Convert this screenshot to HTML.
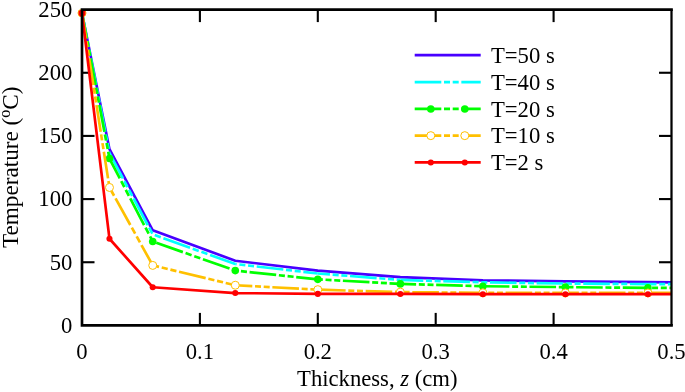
<!DOCTYPE html>
<html><head><meta charset="utf-8"><title>chart</title>
<style>
html,body{margin:0;padding:0;background:#fff;}
body{width:685px;height:392px;overflow:hidden;font-family:"Liberation Serif",serif;}
svg{display:block;will-change:transform;}
text{font-family:"Liberation Serif",serif;font-size:22.67px;fill:#000;}
</style></head><body>
<svg width="685" height="392" viewBox="0 0 685 392">
<rect x="0" y="0" width="685" height="392" fill="#fff"/>
<defs><clipPath id="cp"><rect x="77.00" y="9.60" width="594.50" height="315.80"/></clipPath></defs>

<g stroke="#000" fill="none">
<line x1="199.90" y1="325.40" x2="199.90" y2="312.90" stroke-width="2.1"/>
<line x1="199.90" y1="9.60" x2="199.90" y2="22.10" stroke-width="2.1"/>
<line x1="317.80" y1="325.40" x2="317.80" y2="312.90" stroke-width="2.1"/>
<line x1="317.80" y1="9.60" x2="317.80" y2="22.10" stroke-width="2.1"/>
<line x1="435.70" y1="325.40" x2="435.70" y2="312.90" stroke-width="2.1"/>
<line x1="435.70" y1="9.60" x2="435.70" y2="22.10" stroke-width="2.1"/>
<line x1="553.60" y1="325.40" x2="553.60" y2="312.90" stroke-width="2.1"/>
<line x1="553.60" y1="9.60" x2="553.60" y2="22.10" stroke-width="2.1"/>
<line x1="82.00" y1="262.24" x2="94.50" y2="262.24" stroke-width="2.1"/>
<line x1="671.50" y1="262.24" x2="659.00" y2="262.24" stroke-width="2.1"/>
<line x1="82.00" y1="199.08" x2="94.50" y2="199.08" stroke-width="2.1"/>
<line x1="671.50" y1="199.08" x2="659.00" y2="199.08" stroke-width="2.1"/>
<line x1="82.00" y1="135.92" x2="94.50" y2="135.92" stroke-width="2.1"/>
<line x1="671.50" y1="135.92" x2="659.00" y2="135.92" stroke-width="2.1"/>
<line x1="82.00" y1="72.76" x2="94.50" y2="72.76" stroke-width="2.1"/>
<line x1="671.50" y1="72.76" x2="659.00" y2="72.76" stroke-width="2.1"/>
</g>
<g clip-path="url(#cp)" fill="none" stroke-linejoin="round">
<polyline points="82.00,13.01 109.47,149.18 152.74,230.34 235.27,260.72 317.80,270.70 400.33,277.15 482.86,280.30 565.39,281.31 647.92,282.20 730.45,282.70" stroke="#4800ff" stroke-width="2.67"/>
<line x1="82.00" y1="13.01" x2="109.47" y2="153.10" stroke="#00ffff" stroke-width="2.67" stroke-dasharray="27.107 2.751 6.114 2.751 6.114 2.700" stroke-dashoffset="1.223"/>
<line x1="109.47" y1="153.10" x2="152.74" y2="234.39" stroke="#00ffff" stroke-width="2.67" stroke-dasharray="30.134 3.059 6.797 3.059 6.797 3.002" stroke-dashoffset="1.517"/>
<line x1="152.74" y1="234.39" x2="235.27" y2="264.01" stroke="#00ffff" stroke-width="2.67" stroke-dasharray="28.262 2.869 6.375 2.869 6.375 2.816" stroke-dashoffset="38.223"/>
<line x1="235.27" y1="264.01" x2="317.80" y2="273.48" stroke="#00ffff" stroke-width="2.67" stroke-dasharray="26.775 2.718 6.039 2.718 6.039 2.667" stroke-dashoffset="25.371"/>
<line x1="317.80" y1="273.48" x2="400.33" y2="279.92" stroke="#00ffff" stroke-width="2.67" stroke-dasharray="26.681 2.708 6.018 2.708 6.018 2.658" stroke-dashoffset="14.480"/>
<line x1="400.33" y1="279.92" x2="482.86" y2="282.32" stroke="#00ffff" stroke-width="2.67" stroke-dasharray="26.611 2.701 6.003 2.701 6.003 2.651" stroke-dashoffset="3.667"/>
<line x1="482.86" y1="282.32" x2="565.39" y2="283.52" stroke="#00ffff" stroke-width="2.67" stroke-dasharray="26.603 2.700 6.001 2.700 6.001 2.650" stroke-dashoffset="39.550"/>
<line x1="565.39" y1="283.52" x2="647.92" y2="284.09" stroke="#00ffff" stroke-width="2.67" stroke-dasharray="26.601 2.700 6.000 2.700 6.000 2.650" stroke-dashoffset="28.776"/>
<line x1="647.92" y1="284.09" x2="730.45" y2="284.47" stroke="#00ffff" stroke-width="2.67" stroke-dasharray="26.600 2.700 6.000 2.700 6.000 2.650" stroke-dashoffset="18.006"/>
<line x1="82.00" y1="13.01" x2="109.47" y2="158.53" stroke="#00ff00" stroke-width="2.67" stroke-dasharray="27.070 2.748 6.106 2.748 6.106 2.697" stroke-dashoffset="1.221"/>
<line x1="109.47" y1="158.53" x2="152.74" y2="241.52" stroke="#00ff00" stroke-width="2.67" stroke-dasharray="29.998 3.045 6.767 3.045 6.767 2.989" stroke-dashoffset="7.636"/>
<line x1="152.74" y1="241.52" x2="235.27" y2="270.58" stroke="#00ff00" stroke-width="2.67" stroke-dasharray="28.200 2.862 6.361 2.862 6.361 2.809" stroke-dashoffset="45.706"/>
<line x1="235.27" y1="270.58" x2="317.80" y2="279.36" stroke="#00ff00" stroke-width="2.67" stroke-dasharray="26.750 2.715 6.034 2.715 6.034 2.665" stroke-dashoffset="32.525"/>
<line x1="317.80" y1="279.36" x2="400.33" y2="283.90" stroke="#00ff00" stroke-width="2.67" stroke-dasharray="26.640 2.704 6.009 2.704 6.009 2.654" stroke-dashoffset="21.606"/>
<line x1="400.33" y1="283.90" x2="482.86" y2="286.24" stroke="#00ff00" stroke-width="2.67" stroke-dasharray="26.611 2.701 6.002 2.701 6.002 2.651" stroke-dashoffset="10.807"/>
<line x1="482.86" y1="286.24" x2="565.39" y2="287.13" stroke="#00ff00" stroke-width="2.67" stroke-dasharray="26.602 2.700 6.000 2.700 6.000 2.650" stroke-dashoffset="0.033"/>
<line x1="565.39" y1="287.13" x2="647.92" y2="287.88" stroke="#00ff00" stroke-width="2.67" stroke-dasharray="26.601 2.700 6.000 2.700 6.000 2.650" stroke-dashoffset="35.914"/>
<line x1="647.92" y1="287.88" x2="730.45" y2="288.14" stroke="#00ff00" stroke-width="2.67" stroke-dasharray="26.600 2.700 6.000 2.700 6.000 2.650" stroke-dashoffset="25.143"/>
<circle cx="82.00" cy="13.01" r="3.8" fill="#00ff00" stroke="none"/>
<circle cx="109.47" cy="158.53" r="3.8" fill="#00ff00" stroke="none"/>
<circle cx="152.74" cy="241.52" r="3.8" fill="#00ff00" stroke="none"/>
<circle cx="235.27" cy="270.58" r="3.8" fill="#00ff00" stroke="none"/>
<circle cx="317.80" cy="279.36" r="3.8" fill="#00ff00" stroke="none"/>
<circle cx="400.33" cy="283.90" r="3.8" fill="#00ff00" stroke="none"/>
<circle cx="482.86" cy="286.24" r="3.8" fill="#00ff00" stroke="none"/>
<circle cx="565.39" cy="287.13" r="3.8" fill="#00ff00" stroke="none"/>
<circle cx="647.92" cy="287.88" r="3.8" fill="#00ff00" stroke="none"/>
<circle cx="730.45" cy="288.14" r="3.8" fill="#00ff00" stroke="none"/>
<line x1="82.00" y1="13.01" x2="109.47" y2="187.46" stroke="#ffc000" stroke-width="2.67" stroke-dasharray="26.928 2.733 6.074 2.733 6.074 2.683" stroke-dashoffset="1.215"/>
<line x1="109.47" y1="187.46" x2="152.74" y2="265.40" stroke="#ffc000" stroke-width="2.67" stroke-dasharray="30.424 3.088 6.863 3.088 6.863 3.031" stroke-dashoffset="40.830"/>
<line x1="152.74" y1="265.40" x2="235.27" y2="285.23" stroke="#ffc000" stroke-width="2.67" stroke-dasharray="27.357 2.777 6.171 2.777 6.171 2.725" stroke-dashoffset="20.916"/>
<line x1="235.27" y1="285.23" x2="317.80" y2="289.65" stroke="#ffc000" stroke-width="2.67" stroke-dasharray="26.638 2.704 6.009 2.704 6.009 2.654" stroke-dashoffset="9.581"/>
<line x1="317.80" y1="289.65" x2="400.33" y2="292.11" stroke="#ffc000" stroke-width="2.67" stroke-dasharray="26.612 2.701 6.003 2.701 6.003 2.651" stroke-dashoffset="45.468"/>
<line x1="400.33" y1="292.11" x2="482.86" y2="292.81" stroke="#ffc000" stroke-width="2.67" stroke-dasharray="26.601 2.700 6.000 2.700 6.000 2.650" stroke-dashoffset="34.679"/>
<line x1="482.86" y1="292.81" x2="565.39" y2="292.94" stroke="#ffc000" stroke-width="2.67" stroke-dasharray="26.600 2.700 6.000 2.700 6.000 2.650" stroke-dashoffset="23.907"/>
<line x1="565.39" y1="292.94" x2="647.92" y2="292.94" stroke="#ffc000" stroke-width="2.67" stroke-dasharray="26.600 2.700 6.000 2.700 6.000 2.650" stroke-dashoffset="13.137"/>
<line x1="647.92" y1="292.94" x2="730.45" y2="292.94" stroke="#ffc000" stroke-width="2.67" stroke-dasharray="26.600 2.700 6.000 2.700 6.000 2.650" stroke-dashoffset="2.367"/>
<circle cx="82.00" cy="13.01" r="4.0" fill="#fff" stroke="#ffc000" stroke-width="1.0"/>
<circle cx="109.47" cy="187.46" r="4.0" fill="#fff" stroke="#ffc000" stroke-width="1.0"/>
<circle cx="152.74" cy="265.40" r="4.0" fill="#fff" stroke="#ffc000" stroke-width="1.0"/>
<circle cx="235.27" cy="285.23" r="4.0" fill="#fff" stroke="#ffc000" stroke-width="1.0"/>
<circle cx="317.80" cy="289.65" r="4.0" fill="#fff" stroke="#ffc000" stroke-width="1.0"/>
<circle cx="400.33" cy="292.11" r="4.0" fill="#fff" stroke="#ffc000" stroke-width="1.0"/>
<circle cx="482.86" cy="292.81" r="4.0" fill="#fff" stroke="#ffc000" stroke-width="1.0"/>
<circle cx="565.39" cy="292.94" r="4.0" fill="#fff" stroke="#ffc000" stroke-width="1.0"/>
<circle cx="647.92" cy="292.94" r="4.0" fill="#fff" stroke="#ffc000" stroke-width="1.0"/>
<circle cx="730.45" cy="292.94" r="4.0" fill="#fff" stroke="#ffc000" stroke-width="1.0"/>
<polyline points="82.00,13.01 109.47,238.74 152.74,287.25 235.27,293.06 317.80,293.88 400.33,293.95 482.86,294.20 565.39,294.20 647.92,294.20 730.45,294.20" stroke="#ff0000" stroke-width="2.67"/>
<circle cx="82.00" cy="13.01" r="3.60" fill="#ff0000" stroke="none"/>
<circle cx="109.47" cy="238.74" r="3.05" fill="#ff0000" stroke="none"/>
<circle cx="152.74" cy="287.25" r="3.05" fill="#ff0000" stroke="none"/>
<circle cx="235.27" cy="293.06" r="3.05" fill="#ff0000" stroke="none"/>
<circle cx="317.80" cy="293.88" r="3.05" fill="#ff0000" stroke="none"/>
<circle cx="400.33" cy="293.95" r="3.05" fill="#ff0000" stroke="none"/>
<circle cx="482.86" cy="294.20" r="3.05" fill="#ff0000" stroke="none"/>
<circle cx="565.39" cy="294.20" r="3.05" fill="#ff0000" stroke="none"/>
<circle cx="647.92" cy="294.20" r="3.05" fill="#ff0000" stroke="none"/>
<circle cx="730.45" cy="294.20" r="3.05" fill="#ff0000" stroke="none"/>
</g>
<g stroke="#000" fill="none">
<path d="M671.50 9.60 L82.00 9.60 L82.00 325.40 L671.50 325.40" stroke-width="2.67" stroke-linecap="square" stroke-linejoin="miter"/>
<line x1="671.50" y1="9.60" x2="671.50" y2="325.40" stroke-width="2.25"/>
</g>
<text x="82.00" y="359.2" text-anchor="middle">0</text>
<text x="199.90" y="359.2" text-anchor="middle">0.1</text>
<text x="317.80" y="359.2" text-anchor="middle">0.2</text>
<text x="435.70" y="359.2" text-anchor="middle">0.3</text>
<text x="553.60" y="359.2" text-anchor="middle">0.4</text>
<text x="671.50" y="359.2" text-anchor="middle">0.5</text>
<text x="72.3" y="332.80" text-anchor="end">0</text>
<text x="72.3" y="269.64" text-anchor="end">50</text>
<text x="72.3" y="206.48" text-anchor="end">100</text>
<text x="72.3" y="143.32" text-anchor="end">150</text>
<text x="72.3" y="80.16" text-anchor="end">200</text>
<text x="72.3" y="17.00" text-anchor="end">250</text>
<text x="377.3" y="385.5" text-anchor="middle">Thickness, <tspan font-style="italic">z</tspan> (cm)</text>
<text transform="translate(18.3,167.3) rotate(-90)" text-anchor="middle" style="font-size:23.2px">Temperature (<tspan style="font-size:16px" dy="-8.8">o</tspan><tspan dy="8.8">C)</tspan></text>
<line x1="414.70" y1="55.10" x2="480.70" y2="55.10" stroke="#4800ff" stroke-width="2.67"/>
<text x="491.0" y="63.20">T=50 s</text>
<line x1="414.70" y1="82.15" x2="480.70" y2="82.15" stroke="#00ffff" stroke-width="2.67" stroke-dasharray="26.60 2.70 6.00 2.70 6.00 2.65"/>
<text x="491.0" y="89.95">T=40 s</text>
<line x1="414.70" y1="108.95" x2="480.70" y2="108.95" stroke="#00ff00" stroke-width="2.67" stroke-dasharray="26.60 2.70 6.00 2.70 6.00 2.65"/>
<circle cx="430.80" cy="108.95" r="3.8" fill="#00ff00"/>
<circle cx="464.80" cy="108.95" r="3.8" fill="#00ff00"/>
<text x="491.0" y="116.65">T=20 s</text>
<line x1="414.70" y1="135.65" x2="480.70" y2="135.65" stroke="#ffc000" stroke-width="2.67" stroke-dasharray="26.60 2.70 6.00 2.70 6.00 2.65"/>
<circle cx="430.80" cy="135.65" r="4.0" fill="#fff" stroke="#ffc000" stroke-width="1.0"/>
<circle cx="464.80" cy="135.65" r="4.0" fill="#fff" stroke="#ffc000" stroke-width="1.0"/>
<text x="491.0" y="143.35">T=10 s</text>
<line x1="414.70" y1="162.45" x2="480.70" y2="162.45" stroke="#ff0000" stroke-width="2.67"/>
<circle cx="430.80" cy="162.45" r="3.05" fill="#ff0000"/>
<circle cx="464.80" cy="162.45" r="3.05" fill="#ff0000"/>
<text x="491.0" y="170.10">T=2 s</text>
</svg></body></html>
